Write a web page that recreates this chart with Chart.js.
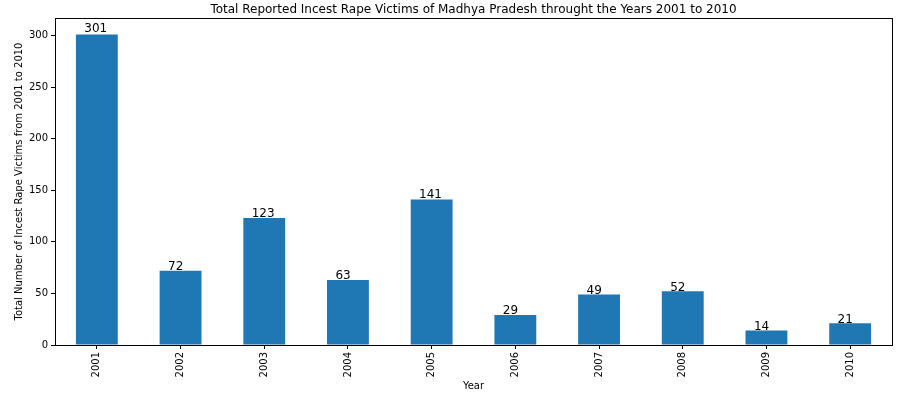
<!DOCTYPE html>
<html>

<head>
    <title>Incest Rape Victims - Madhya Pradesh</title>
    <script src="https://cdn.jsdelivr.net/npm/chart.js"></script>
    <style>
        body { margin: 0; background: #fff; }
    </style>
</head>

<body>
    <canvas id="myChart" width="913" height="401"></canvas>

    <script>
        // datos
        const years = ["2001", "2002", "2003", "2004", "2005", "2006", "2007", "2008", "2009", "2010"];
        const victims = [301, 72, 123, 63, 141, 29, 49, 52, 14, 21];
        const yTicks = [0, 50, 100, 150, 200, 250, 300];

        const chartTitle = "Total Reported Incest Rape Victims of Madhya Pradesh throught the Years 2001 to 2010";
        const xTitle = "Year";
        const yTitle = "Total Number of Incest Rape Victims from 2001 to 2010";

        const FONT = "'DejaVu Sans', sans-serif";

        // titulos, marco y etiquetas de valor
        const decorations = {
            id: "decorations",
            afterDraw(chart) {
                const ctx = chart.ctx;
                const area = chart.chartArea;
                const yScale = chart.scales.y;
                ctx.save();

                // marco completo
                ctx.strokeStyle = "#000";
                ctx.lineWidth = 1;
                ctx.strokeRect(Math.round(area.left) + 0.5, Math.round(area.top) + 0.5,
                    Math.round(area.right - area.left), Math.round(area.bottom - area.top));

                ctx.fillStyle = "#000";
                ctx.font = "12px " + FONT;
                ctx.textAlign = "center";
                ctx.textBaseline = "alphabetic";
                ctx.fillText(chartTitle, (area.left + area.right) / 2, 13);

                ctx.font = "10px " + FONT;
                ctx.textBaseline = "middle";
                ctx.fillText(xTitle, (area.left + area.right) / 2, 386);

                ctx.save();
                ctx.translate(19, (area.top + area.bottom) / 2);
                ctx.rotate(-Math.PI / 2);
                ctx.fillText(yTitle, 0, 0);
                ctx.restore();

                // valores sobre las barras
                const meta = chart.getDatasetMeta(0);
                const slot = (area.right - area.left) / years.length;
                ctx.font = "12px " + FONT;
                ctx.textAlign = "left";
                ctx.textBaseline = "alphabetic";
                meta.data.forEach((bar, i) => {
                    const x = bar.x - bar.width / 2 + 0.1 * slot;
                    const y = yScale.getPixelForValue(victims[i] * 1.005) - 0.5;
                    ctx.fillText(String(victims[i]), x, y);
                });
                ctx.restore();
            }
        };

        const ctx = document.getElementById("myChart").getContext("2d");
        new Chart(ctx, {
            type: "bar",
            data: {
                labels: years,
                datasets: [{
                    data: victims,
                    backgroundColor: "#1f77b4",
                    borderWidth: 0,
                    inflateAmount: 0,
                    barPercentage: 0.5,
                    categoryPercentage: 1.0,
                }],
            },
            options: {
                responsive: false,
                animation: false,
                devicePixelRatio: 1,
                layout: { padding: { top: 18, right: 21, left: 0, bottom: 0 } },
                plugins: {
                    legend: { display: false },
                    tooltip: { enabled: false },
                    title: { display: false },
                },
                scales: {
                    x: {
                        offset: true,
                        grid: { display: true, drawOnChartArea: false, drawTicks: true, tickLength: 4, color: "#000", offset: false },
                        border: { display: true, color: "#000" },
                        ticks: {
                            color: "#000",
                            font: { family: FONT, size: 10 },
                            minRotation: 90,
                            maxRotation: 90,
                            padding: 3,
                        },
                        afterFit(scale) { scale.height = 56; },
                    },
                    y: {
                        min: 0,
                        max: 317,
                        afterBuildTicks(scale) {
                            scale.ticks = yTicks.map(v => ({ value: v }));
                        },
                        grid: { display: true, drawOnChartArea: false, drawTicks: true, tickLength: 4, color: "#000" },
                        border: { display: true, color: "#000" },
                        ticks: {
                            color: "#000",
                            font: { family: FONT, size: 10 },
                            padding: 3,
                        },
                        afterFit(scale) { scale.width = 55; },
                    },
                },
            },
            plugins: [decorations],
        });
    </script>
</body>

</html>
